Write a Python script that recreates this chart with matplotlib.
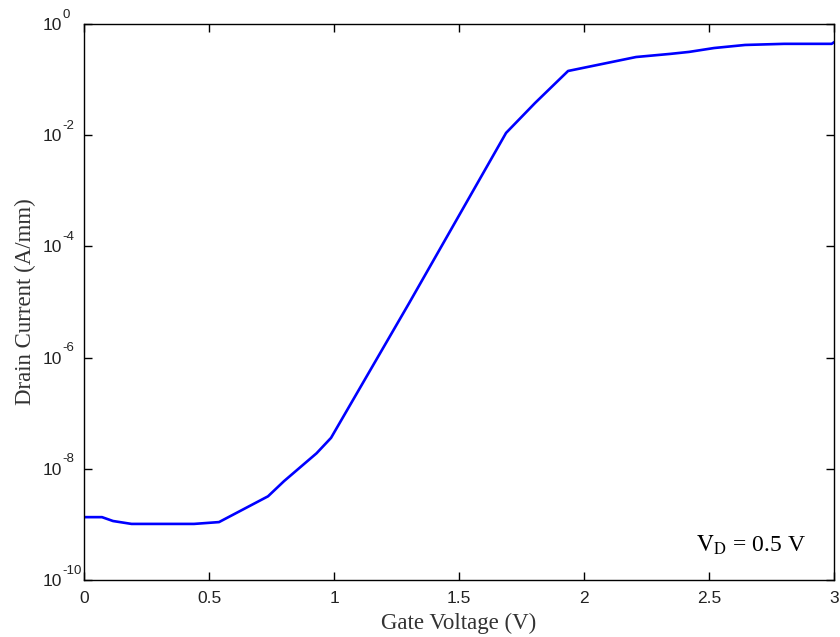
import matplotlib
matplotlib.use("Agg")
import matplotlib.pyplot as plt
import matplotlib.ticker as mticker

# gate sweep at VD = 0.5 V
gate_v = [0.0, 0.072, 0.116, 0.19, 0.44, 0.54, 0.736, 0.80, 0.93, 0.988,
          1.30, 1.688, 1.804, 1.936, 2.208, 2.344, 2.42, 2.52, 2.644, 2.80, 2.99, 3.0]
drain_i = [1.35e-9, 1.35e-9, 1.15e-9, 1.02e-9, 1.02e-9, 1.1e-9, 3.2e-9, 6.0e-9,
           1.9e-8, 3.6e-8, 9.5e-6, 1.1e-2, 3.8e-2, 0.143, 0.255, 0.29, 0.315,
           0.37, 0.42, 0.44, 0.44, 0.47]

y_ticks = [1e-10, 1e-8, 1e-6, 1e-4, 1e-2, 1e0]
y_exponents = ["-10", "-8", "-6", "-4", "-2", "0"]
x_ticks = [0, 0.5, 1, 1.5, 2, 2.5, 3]
x_tick_labels = ["0", "0.5", "1", "1.5", "2", "2.5", "3"]

plt.rcParams["font.family"] = ["Liberation Sans", "DejaVu Sans"]
plt.rcParams["mathtext.fontset"] = "stix"


def main():
    fig = plt.figure(figsize=(8.4, 6.37), dpi=100)
    ax = fig.add_axes([0.1, 0.0895, 0.893, 0.8728])

    ax.plot(gate_v, drain_i, color="#0000ff", linewidth=1.9)

    ax.set_yscale("log")
    ax.set_xlim(0, 3)
    ax.set_ylim(1e-10, 1e0)
    ax.set_yticks(y_ticks)
    ax.set_yticklabels(["10"] * len(y_ticks))
    ax.yaxis.set_minor_locator(mticker.NullLocator())
    ax.set_xticks(x_ticks)
    ax.set_xticklabels(x_tick_labels)

    ax.tick_params(direction="in", length=6, width=1, top=True, right=True,
                   labelsize=12.5, colors="black", labelcolor="#222222")
    ax.tick_params(axis="x", pad=8)
    # MATLAB style: the "10" is left aligned, exponent hangs after it
    ax.tick_params(axis="y", pad=29.5)
    for lab in ax.get_yticklabels():
        lab.set_horizontalalignment("left")
    for t, e in zip(y_ticks, y_exponents):
        ax.annotate(e, xy=(0, t), xycoords=("axes fraction", "data"),
                    xytext=(-15.8, 6.8), textcoords="offset points",
                    ha="left", va="center", fontsize=9.5, color="#222222",
                    annotation_clip=False)

    for sp in ax.spines.values():
        sp.set_linewidth(1.0)

    ax.set_xlabel("Gate Voltage (V)", family="Liberation Serif",
                  fontsize=16.5, color="#333333", labelpad=5)
    ax.set_ylabel("Drain Current (A/mm)", family="Liberation Serif",
                  fontsize=16.5, color="#333333", labelpad=5)

    ax.text(0.816, 0.063, r"$\mathrm{V_D}$ = 0.5 V", transform=ax.transAxes,
            family="Liberation Serif", fontsize=17, va="center", ha="left")

    fig.savefig("out.png", dpi=100)


if __name__ == "__main__":
    main()
